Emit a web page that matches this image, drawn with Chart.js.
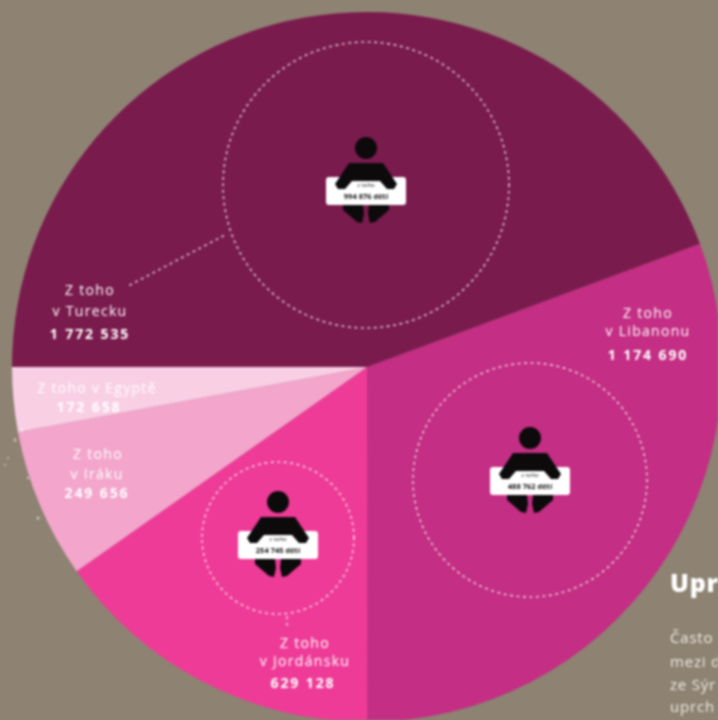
<!DOCTYPE html>
<html lang="cs"><head><meta charset="utf-8">
<style>
html,body{margin:0;padding:0;width:718px;height:720px;overflow:hidden;background:#8e8373}
#wrap{position:absolute;left:0;top:0;width:718px;height:720px;overflow:hidden;filter:blur(.8px)}
#c{position:absolute;left:0;top:0}
.t{position:absolute;transform:translate(-50%,-50%);color:#fff;font:14px "Open Sans",sans-serif;white-space:nowrap;letter-spacing:1.3px}
.b{font-weight:700;font-size:14px;letter-spacing:1.9px}
.s{color:#111;font-size:6px;letter-spacing:0}
.sb{color:#111;font-size:7.5px;font-weight:700;letter-spacing:0}
.l{position:absolute;color:#efe9e0;font:15px "Open Sans",sans-serif;white-space:nowrap;letter-spacing:.8px}
</style>
<script src="https://cdn.jsdelivr.net/npm/chart.js@4/dist/chart.umd.js"></script>
</head><body><div id="wrap"><canvas id="c" width="734" height="734" style="width:734px;height:734px"></canvas>
<div id="txt"></div></div>
<script>
const categories=["Libanon","Jordánsko","Irák","Egypt","Turecko"];
const sliceValues=[1225000,610000,273000,117000,1774000];
const printedValues=["1 174 690","629 128","249 656","172 658","1 772 535"];
const sliceColors=["#c42e84","#ee3b97","#f3a5cc","#f9cfe4","#7a1b4d"];
const rings=[[366,185,143],[530,480,117],[278,538,76]];
const figures=[[366,148,"z toho","994 876 dětí"],[530,438,"z toho","488 762 dětí"],[278,502,"z toho","254 745 dětí"]];
const leaders=[[130,285,225,235],[287,617,287,625]];
const labels=[
 [90,289,"Z toho",""],[90,310,"v Turecku",""],[90,333,printedValues[4],"b"],
 [97,387,"Z toho v Egyptě",""],[89,406,printedValues[3],"b"],
 [98,453,"Z toho",""],[97,473,"v Iráku",""],[97,492,printedValues[2],"b"],
 [648,312,"Z toho",""],[648,330,"v Libanonu",""],[648,354,printedValues[0],"b"],
 [305,642,"Z toho",""],[305,660,"v Jordánsku",""],[303,682,printedValues[1],"b"]];
const side=[[670,565,"Upr",'800 25px "Open Sans",sans-serif',"#fff"],[670,627,"Často"],[670,651,"mezi d"],[670,674,"ze Sýr"],[670,696,"uprch"]];

const deco={id:"deco",afterDraw(ch){
 const x=ch.ctx;x.save();
 x.strokeStyle="rgba(255,255,255,.8)";x.lineWidth=1.6;x.setLineDash([1.5,5]);x.lineCap="round";
 rings.forEach(r=>{x.beginPath();x.arc(r[0],r[1],r[2],0,7);x.stroke();});
 leaders.forEach(l=>{x.beginPath();x.moveTo(l[0],l[1]);x.lineTo(l[2],l[3]);x.stroke();});
 x.setLineDash([]);
 figures.forEach(f=>{
  const cx=f[0],hy=f[1];
  const leg=s=>{x.beginPath();x.moveTo(cx+s*23,hy+57);x.lineTo(cx+s*3,hy+57);x.lineTo(cx+s*2,hy+66);x.lineTo(cx+s*4,hy+75);x.lineTo(cx+s*9,hy+74);x.lineTo(cx+s*23,hy+62);x.closePath();x.fill();};
  x.fillStyle="#0d0a0c";
  x.beginPath();x.arc(cx,hy,11,0,7);x.fill();
  leg(-1);leg(1);
  x.fillStyle="#fff";x.beginPath();x.roundRect(cx-40,hy+29,80,28,3);x.fill();
  x.fillStyle="#0d0a0c";
  x.beginPath();x.moveTo(cx-17,hy+15);x.lineTo(cx+17,hy+15);x.lineTo(cx+31,hy+36);x.lineTo(cx+28,hy+41);x.lineTo(cx+21,hy+41);x.lineTo(cx+14,hy+33);x.lineTo(cx-14,hy+33);x.lineTo(cx-21,hy+41);x.lineTo(cx-28,hy+41);x.lineTo(cx-31,hy+36);x.closePath();x.fill();
 });
 x.fillStyle="rgba(255,255,255,.55)";
 [[15,440,1.5],[8,458,1],[28,478,1.2],[38,518,1.5],[5,465,1],[22,430,1.5]].forEach(p=>{x.beginPath();x.arc(p[0],p[1],p[2],0,7);x.fill();});
 x.restore();
}};
new Chart(document.getElementById("c"),{type:"pie",
 data:{labels:categories,datasets:[{data:sliceValues,backgroundColor:sliceColors,borderWidth:0}]},
 options:{responsive:false,animation:false,rotation:69.7,radius:355,layout:{padding:0},
  plugins:{legend:{display:false},tooltip:{enabled:false}}},
 plugins:[deco]});
const box=document.getElementById("txt");
function add(cls,x,y,s,font,color){const d=document.createElement("div");d.className=cls;d.style.left=x+"px";d.style.top=y+"px";d.textContent=s;if(font)d.style.font=font;if(color)d.style.color=color;box.appendChild(d);}
labels.forEach(l=>add("t "+l[3],l[0],l[1],l[2]));
figures.forEach(f=>{add("t s",f[0],f[1]+37,f[2]);add("t sb",f[0],f[1]+48,f[3]);});
side.forEach(s=>add("l",s[0],s[1],s[2],s[3],s[4]));
</script></body></html>
